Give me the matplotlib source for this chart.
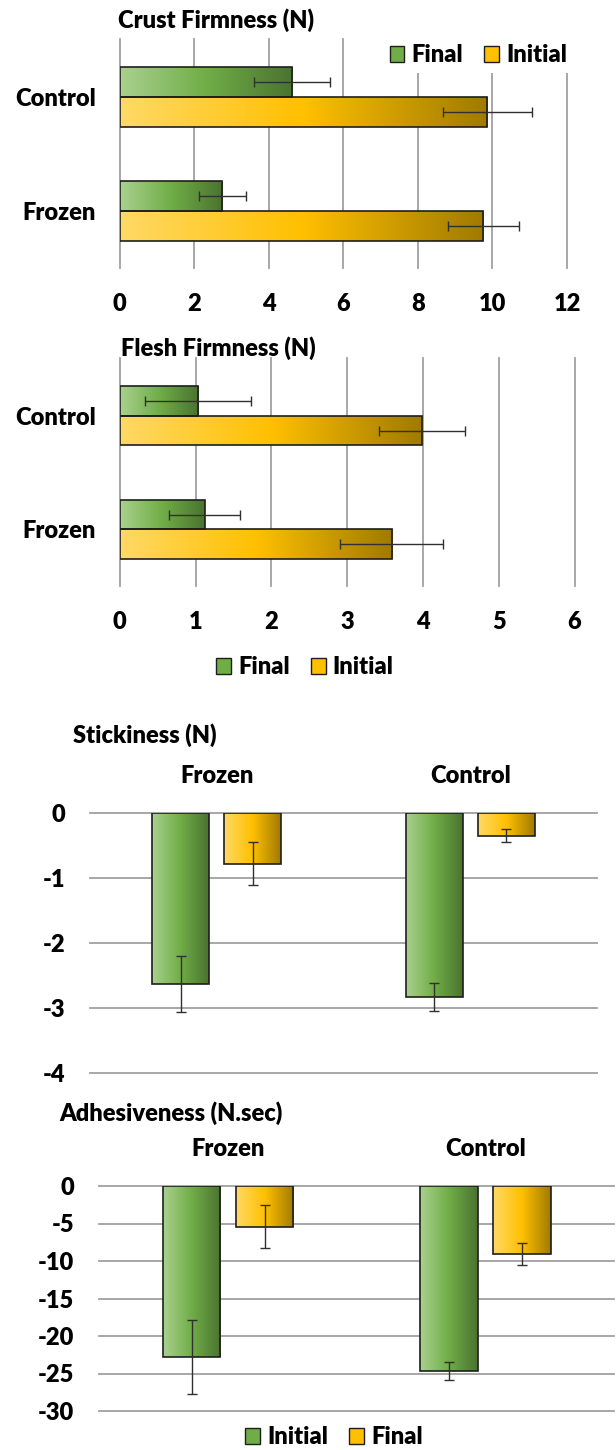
import numpy as np
import matplotlib
matplotlib.use("Agg")
import matplotlib.pyplot as plt
from matplotlib.colors import LinearSegmentedColormap
from matplotlib.patches import Patch

# horizontal charts: order bottom -> top
groups_h = ["Frozen", "Control"]
crust_final = [2.75, 4.62]
crust_final_err = [0.63, 1.03]
crust_initial = [9.75, 9.86]
crust_initial_err = [0.95, 1.20]

flesh_final = [1.12, 1.03]
flesh_final_err = [0.47, 0.70]
flesh_initial = [3.59, 3.99]
flesh_initial_err = [0.68, 0.57]

# vertical charts
groups_v = ["Frozen", "Control"]
stick_initial = [-2.63, -2.83]
stick_initial_err = [0.43, 0.21]
stick_final = [-0.78, -0.35]
stick_final_err = [0.33, 0.10]

adh_initial = [-22.76, -24.67]
adh_initial_err = [4.95, 1.20]
adh_final = [-5.42, -9.07]
adh_final_err = [2.90, 1.50]

crust_ticks = [0, 2, 4, 6, 8, 10, 12]
flesh_ticks = [0, 1, 2, 3, 4, 5, 6]
stick_ticks = [0, -1, -2, -3, -4]
adh_ticks = [0, -5, -10, -15, -20, -25, -30]

plt.rcParams['font.family'] = ['Lato', 'DejaVu Sans']
plt.rcParams['font.weight'] = 'heavy'
plt.rcParams['axes.unicode_minus'] = False

W, H = 616, 1450
FS = 17
green_cmap = LinearSegmentedColormap.from_list("g", ["#a9d18e", "#70ad47", "#4a7330"])
gold_cmap = LinearSegmentedColormap.from_list("y", ["#ffd966", "#ffc000", "#a07a00"])
GREEN_MID = "#70ad47"
GOLD_MID = "#ffc000"
EDGE = "#1e1e1e"
GRID = "#a0a0a0"
ERR = "#303030"


def box(x0, y0, x1, y1):
    return [x0 / W, 1 - y1 / H, (x1 - x0) / W, (y1 - y0) / H]


def fill_gradient(ax, bars, cmap):
    grad = np.linspace(0, 1, 256).reshape(1, -1)
    for bar in bars:
        x0, y0 = bar.get_xy()
        w, h = bar.get_width(), bar.get_height()
        bar.set_facecolor("none")
        im = ax.imshow(grad, cmap=cmap, aspect="auto", interpolation="bilinear",
                       extent=[x0, x0 + w, min(y0, y0 + h), max(y0, y0 + h)],
                       origin="lower", zorder=1.5)
        im.set_clip_path(bar)
        bar.set_zorder(1.6)


def style_axes(ax):
    for s in ax.spines.values():
        s.set_visible(False)
    ax.tick_params(length=0, labelsize=FS, labelcolor="black")
    ax.set_axisbelow(True)


def hbar_chart(ax, final, final_err, initial, initial_err, ticks):
    y = np.arange(len(groups_h))
    h = 0.26
    b1 = ax.barh(y + h / 2, final, h, edgecolor=EDGE, linewidth=1.2)
    b2 = ax.barh(y - h / 2, initial, h, edgecolor=EDGE, linewidth=1.2)
    fill_gradient(ax, b1, green_cmap)
    fill_gradient(ax, b2, gold_cmap)
    ax.errorbar(final, y + h / 2, xerr=final_err, fmt="none", ecolor=ERR,
                elinewidth=1, capsize=3.5, capthick=1, zorder=3)
    ax.errorbar(initial, y - h / 2, xerr=initial_err, fmt="none", ecolor=ERR,
                elinewidth=1, capsize=3.5, capthick=1, zorder=3)
    style_axes(ax)
    ax.set_yticks(y, groups_h)
    ax.set_xticks(ticks)
    ax.set_xlim(ticks[0], ticks[-1])
    ax.set_ylim(-0.5, 1.51)
    ax.grid(axis="x", color=GRID, linewidth=1.3)
    for gl in ax.get_xgridlines():
        gl.set_clip_on(False)
    ax.tick_params(axis="x", pad=18)
    ax.tick_params(axis="y", pad=17)


def vbar_chart(ax, initial, initial_err, final, final_err, ticks):
    x = np.arange(len(groups_v))
    w = 0.224
    off = 0.142
    b1 = ax.bar(x - off, initial, w, edgecolor=EDGE, linewidth=1.2)
    b2 = ax.bar(x + off, final, w, edgecolor=EDGE, linewidth=1.2)
    fill_gradient(ax, b1, green_cmap)
    fill_gradient(ax, b2, gold_cmap)
    ax.errorbar(x - off, initial, yerr=initial_err, fmt="none", ecolor=ERR,
                elinewidth=1, capsize=3.5, capthick=1, zorder=3)
    ax.errorbar(x + off, final, yerr=final_err, fmt="none", ecolor=ERR,
                elinewidth=1, capsize=3.5, capthick=1, zorder=3)
    style_axes(ax)
    ax.xaxis.tick_top()
    ax.set_xticks(x, groups_v)
    ax.set_yticks(ticks)
    ax.set_xlim(-0.5, 1.5)
    ax.set_ylim(ticks[-1], ticks[0])
    ax.grid(axis="y", color=GRID, linewidth=1.3)
    for gl in ax.get_ygridlines():
        gl.set_clip_on(False)
    ax.tick_params(axis="x", pad=19)
    ax.tick_params(axis="y", pad=18)


def legend_handles():
    return (Patch(facecolor=GREEN_MID, edgecolor=EDGE, linewidth=1),
            Patch(facecolor=GOLD_MID, edgecolor=EDGE, linewidth=1))


fig = plt.figure(figsize=(W / 100, H / 100), dpi=100)

ax1 = fig.add_axes(box(119.8, 39, 567, 268))
hbar_chart(ax1, crust_final, crust_final_err, crust_initial, crust_initial_err, crust_ticks)
g, y_ = legend_handles()
ax1.legend([g, y_], ["Final", "Initial"], ncol=2, loc="center right",
           bbox_to_anchor=(574 / W, 1 - 55 / H), bbox_transform=fig.transFigure,
           fontsize=FS, frameon=True, facecolor="white", edgecolor="none", framealpha=1,
           handlelength=0.62, handleheight=0.66, handletextpad=0.3, columnspacing=0.9,
           borderpad=0.3, borderaxespad=0)
fig.text(118 / W, 1 - 20 / H, "Crust Firmness (N)", fontsize=FS, ha="left", va="center")

ax2 = fig.add_axes(box(119.8, 358, 574.5, 586))
hbar_chart(ax2, flesh_final, flesh_final_err, flesh_initial, flesh_initial_err, flesh_ticks)
g, y_ = legend_handles()
fig.legend([g, y_], ["Final", "Initial"], ncol=2, loc="center",
           bbox_to_anchor=(305 / W, 1 - 667 / H), fontsize=FS, frameon=False,
           handlelength=0.62, handleheight=0.66, handletextpad=0.3, columnspacing=0.9)
fig.text(121 / W, 1 - 348 / H, "Flesh Firmness (N)", fontsize=FS, ha="left", va="center")

ax3 = fig.add_axes(box(90, 813, 597, 1073))
vbar_chart(ax3, stick_initial, stick_initial_err, stick_final, stick_final_err, stick_ticks)
fig.text(73 / W, 1 - 735 / H, "Stickiness (N)", fontsize=FS, ha="left", va="center")

ax4 = fig.add_axes(box(99.4, 1186, 614, 1411))
vbar_chart(ax4, adh_initial, adh_initial_err, adh_final, adh_final_err, adh_ticks)
g, y_ = legend_handles()
fig.legend([g, y_], ["Initial", "Final"], ncol=2, loc="center",
           bbox_to_anchor=(334 / W, 1 - 1437 / H), fontsize=FS, frameon=False,
           handlelength=0.62, handleheight=0.66, handletextpad=0.3, columnspacing=0.9)
fig.text(59 / W, 1 - 1113 / H, "Adhesiveness (N.sec)", fontsize=FS, ha="left", va="center")

fig.savefig("out.png", dpi=100)
